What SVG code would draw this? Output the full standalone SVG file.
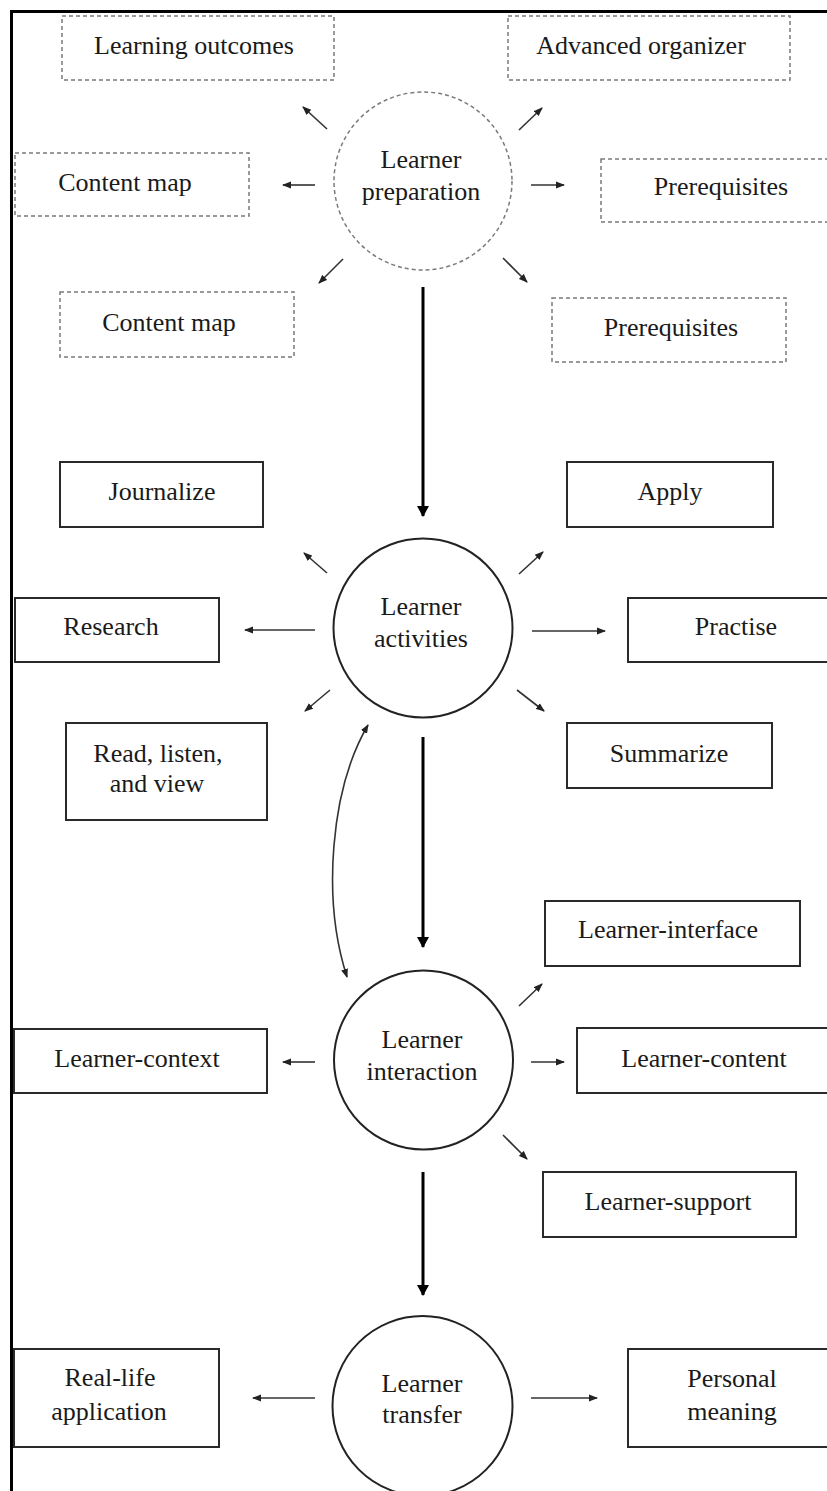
<svg xmlns="http://www.w3.org/2000/svg" width="827" height="1491" viewBox="0 0 827 1491">
<defs>
<style>
.t{font-family:"Liberation Serif","Times New Roman",serif;font-size:26px;fill:#1a1a1a;text-anchor:middle}
.box{fill:none;stroke:#2a2a2a;stroke-width:2}
.dbox{fill:none;stroke:#7a7a7a;stroke-width:1.5;stroke-dasharray:4 3}
.circ{fill:none;stroke:#222;stroke-width:2}
.dcirc{fill:none;stroke:#7a7a7a;stroke-width:1.5;stroke-dasharray:4 3}
.thin{fill:none;stroke:#333;stroke-width:1.6;marker-end:url(#ah)}
.main{fill:none;stroke:#000;stroke-width:3;marker-end:url(#big)}
.frame{fill:none;stroke:#000;stroke-width:3}
</style>
<marker id="ah" markerUnits="userSpaceOnUse" markerWidth="9" markerHeight="8" refX="8" refY="4" orient="auto-start-reverse" viewBox="0 0 9 8">
<path d="M0,0.5 L9,4 L0,7.5 z" fill="#222"/>
</marker>
<marker id="big" markerUnits="userSpaceOnUse" markerWidth="11" markerHeight="12" refX="10" refY="6" orient="auto" viewBox="0 0 11 12">
<path d="M0,0 L11,6 L0,12 z" fill="#000"/>
</marker>
</defs>
<rect width="827" height="1491" fill="#fff"/>
<path class="frame" d="M11.5,1491 L11.5,11.5 L827,11.5"/>

<g id="connectors">
<line class="thin" x1="327" y1="129" x2="303" y2="107"/>
<line class="thin" x1="315" y1="185" x2="283" y2="185"/>
<line class="thin" x1="343" y1="259" x2="319" y2="283"/>
<line class="thin" x1="519" y1="130" x2="542" y2="108"/>
<line class="thin" x1="531" y1="185" x2="564" y2="185"/>
<line class="thin" x1="503" y1="258" x2="527" y2="282"/>
<line class="main" x1="423" y1="287" x2="423" y2="516"/>

<line class="thin" x1="327" y1="573" x2="304" y2="553"/>
<line class="thin" x1="315" y1="630" x2="245" y2="630"/>
<line class="thin" x1="330" y1="690" x2="305" y2="711"/>
<line class="thin" x1="519" y1="574" x2="543" y2="552"/>
<line class="thin" x1="532" y1="631" x2="605" y2="631"/>
<line class="thin" x1="517" y1="690" x2="544" y2="711"/>
<line class="main" x1="423" y1="737" x2="423" y2="947"/>
<path d="M368,725 C330,790 322,900 347,977" fill="none" stroke="#333" stroke-width="1.6" marker-start="url(#ah)" marker-end="url(#ah)"/>

<line class="thin" x1="519" y1="1006" x2="542" y2="984"/>
<line class="thin" x1="315" y1="1062" x2="283" y2="1062"/>
<line class="thin" x1="531" y1="1062" x2="564" y2="1062"/>
<line class="thin" x1="503" y1="1135" x2="527" y2="1159"/>
<line class="main" x1="423" y1="1172" x2="423" y2="1295"/>

<line class="thin" x1="315" y1="1398" x2="253" y2="1398"/>
<line class="thin" x1="531" y1="1398" x2="597" y2="1398"/>
</g>

<g id="learner-preparation">
<circle class="dcirc" cx="423" cy="181" r="89"/>
<text class="t" x="421" y="168">Learner</text>
<text class="t" x="421" y="200">preparation</text>
</g>
<g id="learning-outcomes">
<rect class="dbox" x="62" y="16" width="272" height="64"/>
<text class="t" x="194" y="54">Learning outcomes</text>
</g>
<g id="advanced-organizer">
<rect class="dbox" x="508" y="16" width="282" height="64"/>
<text class="t" x="641" y="54">Advanced organizer</text>
</g>
<g id="content-map-1">
<rect class="dbox" x="15" y="153" width="234" height="63"/>
<text class="t" x="125" y="191">Content map</text>
</g>
<g id="prerequisites-1">
<rect class="dbox" x="601" y="159" width="240" height="63"/>
<text class="t" x="721" y="195">Prerequisites</text>
</g>
<g id="content-map-2">
<rect class="dbox" x="60" y="292" width="234" height="65"/>
<text class="t" x="169" y="331">Content map</text>
</g>
<g id="prerequisites-2">
<rect class="dbox" x="552" y="298" width="234" height="64"/>
<text class="t" x="671" y="336">Prerequisites</text>
</g>

<g id="learner-activities">
<circle class="circ" cx="423" cy="628" r="89.5"/>
<text class="t" x="421" y="615">Learner</text>
<text class="t" x="421" y="647">activities</text>
</g>
<g id="journalize">
<rect class="box" x="60" y="462" width="203" height="65"/>
<text class="t" x="162" y="500">Journalize</text>
</g>
<g id="apply">
<rect class="box" x="567" y="462" width="206" height="65"/>
<text class="t" x="670" y="500">Apply</text>
</g>
<g id="research">
<rect class="box" x="15" y="598" width="204" height="64"/>
<text class="t" x="111" y="635">Research</text>
</g>
<g id="practise">
<rect class="box" x="628" y="598" width="212" height="64"/>
<text class="t" x="736" y="635">Practise</text>
</g>
<g id="read-listen-view">
<rect class="box" x="66" y="723" width="201" height="97"/>
<text class="t" x="158" y="762">Read, listen,</text>
<text class="t" x="157" y="792">and view</text>
</g>
<g id="summarize">
<rect class="box" x="567" y="723" width="205" height="65"/>
<text class="t" x="669" y="762">Summarize</text>
</g>

<g id="learner-interaction">
<circle class="circ" cx="423.5" cy="1060" r="89.5"/>
<text class="t" x="422" y="1048">Learner</text>
<text class="t" x="422" y="1080">interaction</text>
</g>
<g id="learner-interface">
<rect class="box" x="545" y="901" width="255" height="65"/>
<text class="t" x="668" y="938">Learner-interface</text>
</g>
<g id="learner-context">
<rect class="box" x="14" y="1029" width="253" height="64"/>
<text class="t" x="137" y="1067">Learner-context</text>
</g>
<g id="learner-content">
<rect class="box" x="577" y="1028" width="263" height="65"/>
<text class="t" x="704" y="1067">Learner-content</text>
</g>
<g id="learner-support">
<rect class="box" x="543" y="1172" width="253" height="65"/>
<text class="t" x="668" y="1210">Learner-support</text>
</g>

<g id="learner-transfer">
<circle class="circ" cx="422.5" cy="1406" r="90"/>
<text class="t" x="422" y="1392">Learner</text>
<text class="t" x="422" y="1423">transfer</text>
</g>
<g id="real-life-application">
<rect class="box" x="14" y="1349" width="205" height="98"/>
<text class="t" x="110" y="1386">Real-life</text>
<text class="t" x="109" y="1420">application</text>
</g>
<g id="personal-meaning">
<rect class="box" x="628" y="1349" width="212" height="98"/>
<text class="t" x="732" y="1387">Personal</text>
<text class="t" x="732" y="1420">meaning</text>
</g>
</svg>
